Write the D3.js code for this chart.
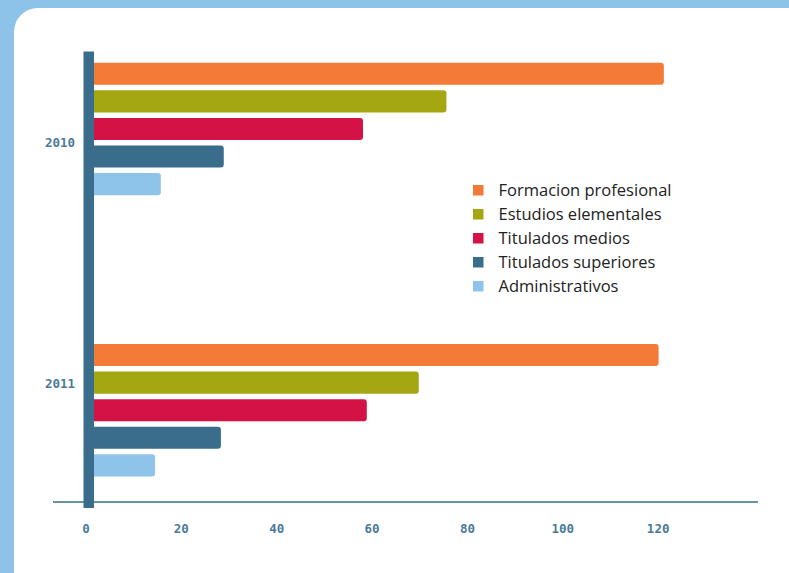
<!DOCTYPE html>
<meta charset="utf-8">
<style>
body { margin: 0; background: #8ec3e9; }
svg { display: block; }
.tick text { font-family: "DejaVu Sans Mono", monospace; font-size: 12.5px; font-weight: bold; fill: #4a7a98; }
.legend text { font-family: "Open Sans", sans-serif; font-size: 16.5px; fill: #222; }
</style>
<svg width="789" height="573"></svg>
<script src="https://d3js.org/d3.v7.min.js"></script>
<script>

var years = ["2010", "2011"];
var series = ["Formacion profesional", "Estudios elementales", "Titulados medios", "Titulados superiores", "Administrativos"];
var colors = ["#f47a37", "#a4a711", "#d51245", "#3a6d8c", "#8ec3ea"];
var values2010 = [121.3, 75.7, 58.2, 29.0, 15.8];
var values2011 = [120.2, 69.9, 59.0, 28.4, 14.6];
var xTicks = [0, 20, 40, 60, 80, 100, 120];

var svg = d3.select("svg");

// white rounded panel
svg.append("rect")
    .attr("x", 14).attr("y", 8)
    .attr("width", 800).attr("height", 590)
    .attr("rx", 24)
    .attr("fill", "#fff");

var x = d3.scaleLinear().domain([0, 140]).range([85.5, 753]);

var y0 = d3.scaleBand().domain(years).range([52, 502]).paddingOuter(0.038).paddingInner(0.476);
var y1 = d3.scaleBand().domain(series).range([0, 132.5]).paddingInner(0.2).paddingOuter(0);
var color = d3.scaleOrdinal().domain(series).range(colors);

var data = years.map(function(yr, i) {
  var vals = i === 0 ? values2010 : values2011;
  return { year: yr, items: series.map(function(s, j) { return { key: s, value: vals[j] }; }) };
});

// x axis
var xAxis = svg.append("g")
    .attr("transform", "translate(0,502)")
    .call(d3.axisBottom(x).tickValues(xTicks).tickSize(0).tickPadding(22).tickFormat(d3.format("d")));
xAxis.select(".domain").remove();
svg.append("line")
    .attr("x1", 53).attr("x2", 758)
    .attr("y1", 502).attr("y2", 502)
    .attr("stroke", "#3a6d8c").attr("stroke-width", 1.5);

// bars
var group = svg.selectAll(".group")
  .data(data)
  .enter().append("g")
    .attr("class", "group")
    .attr("transform", function(d) { return "translate(0," + y0(d.year) + ")"; });

group.selectAll("rect")
  .data(function(d) { return d.items; })
  .enter().append("rect")
    .attr("x", x(0))
    .attr("y", function(d) { return y1(d.key); })
    .attr("width", function(d) { return x(d.value) - x(0); })
    .attr("height", y1.bandwidth())
    .attr("rx", 3)
    .attr("fill", function(d) { return color(d.key); });

// thick vertical axis bar
svg.append("rect")
    .attr("x", 83.5).attr("y", 51.5)
    .attr("width", 10.5).attr("height", 456.5)
    .attr("fill", "#3a6d8c");

// year labels
var yLab = d3.scalePoint().domain(years).range([142, 383]);
var yAxis = svg.append("g")
    .attr("transform", "translate(75,0)")
    .call(d3.axisLeft(yLab).tickSize(0).tickPadding(0));
yAxis.select(".domain").remove();

// legend
var legend = svg.append("g")
    .attr("class", "legend")
    .attr("transform", "translate(473,190)");

var row = legend.selectAll("g")
  .data(series)
  .enter().append("g")
    .attr("transform", function(d, i) { return "translate(0," + (i * 24) + ")"; });

row.append("rect")
    .attr("x", 0).attr("y", -5)
    .attr("width", 10.5).attr("height", 10.5)
    .attr("fill", function(d) { return color(d); });

row.append("text")
    .attr("x", 25.5)
    .attr("dy", "0.35em")
    .text(function(d) { return d; });

</script>
